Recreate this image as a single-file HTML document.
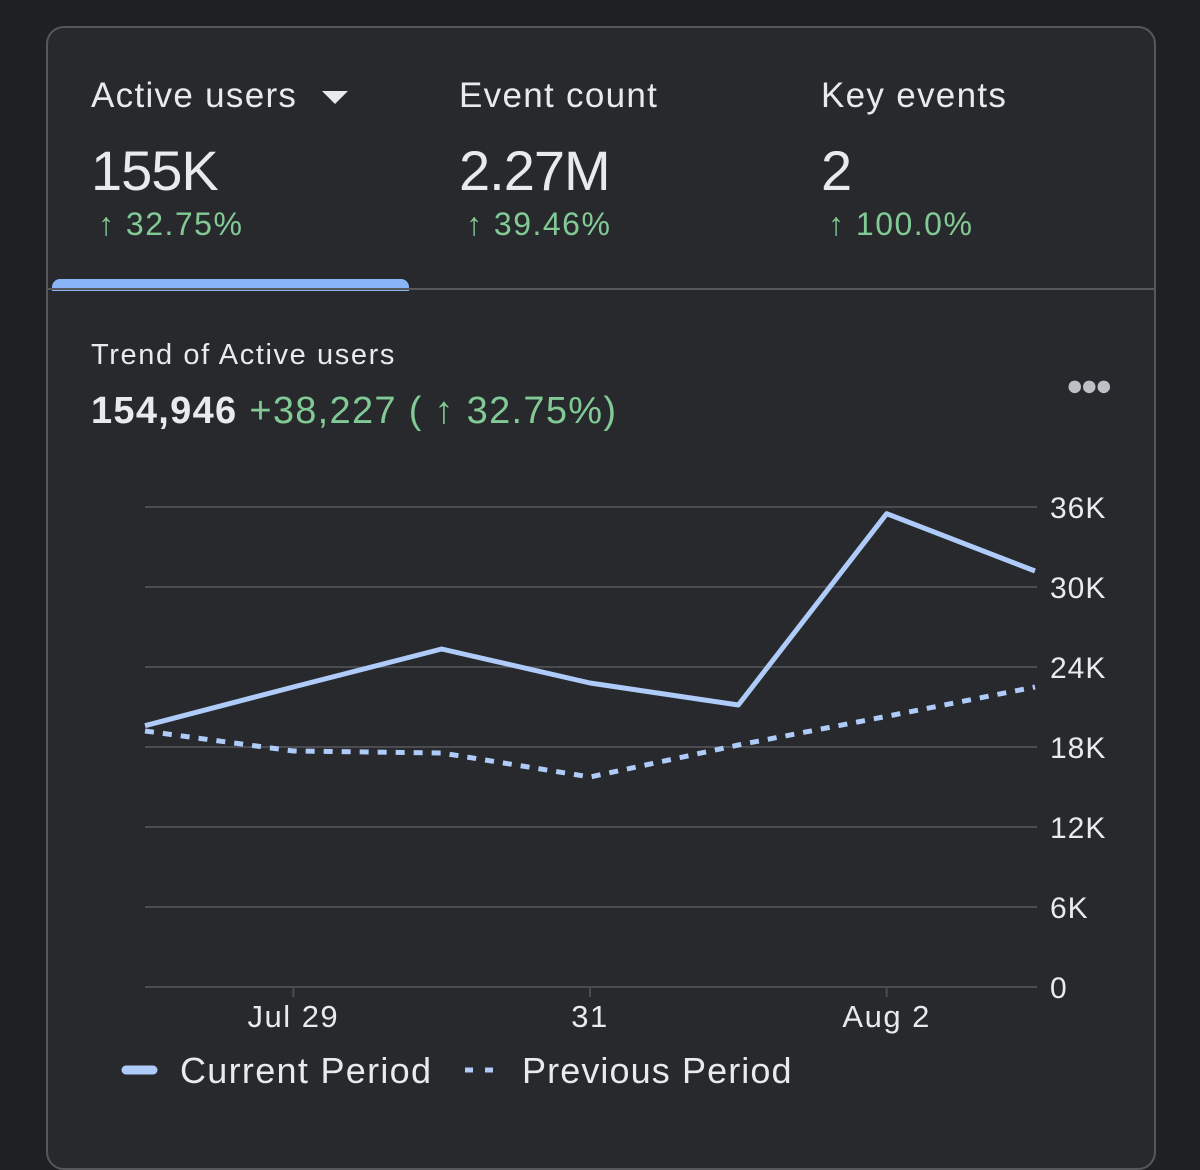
<!DOCTYPE html>
<html><head><meta charset="utf-8">
<style>
body{margin:0;width:1200px;height:1126px;background:#1f2022;font-family:"Liberation Sans",sans-serif;overflow:hidden;position:relative}
.card{position:absolute;left:46px;top:26px;width:1106px;height:1140px;border:2px solid #55575b;border-radius:18px;background:#28292c;overflow:hidden}
.t{position:absolute;color:#e8eaed;white-space:nowrap}
.g{color:#81c995}
</style></head><body>
<div class="card">
 <div class="t" style="left:43px;top:48px;font-size:35px;letter-spacing:1.3px">Active users <span style="display:inline-block;width:0;height:0;border-left:13px solid transparent;border-right:13px solid transparent;border-top:13px solid #e8eaed;vertical-align:middle;margin-left:14px"></span></div>
 <div class="t" style="left:43px;top:110px;font-size:56px;letter-spacing:-1px">155K</div>
 <div class="t g" style="left:50px;top:178px;font-size:32px;letter-spacing:1.5px">↑ 32.75%</div>
 <div class="t" style="left:411px;top:48px;font-size:35px;letter-spacing:1.3px">Event count</div>
 <div class="t" style="left:411px;top:110px;font-size:56px;letter-spacing:-1px">2.27M</div>
 <div class="t g" style="left:418px;top:178px;font-size:32px;letter-spacing:1.5px">↑ 39.46%</div>
 <div class="t" style="left:773px;top:48px;font-size:35px;letter-spacing:1.3px">Key events</div>
 <div class="t" style="left:773px;top:110px;font-size:56px">2</div>
 <div class="t g" style="left:780px;top:178px;font-size:32px;letter-spacing:1.5px">↑ 100.0%</div>
 <div style="position:absolute;left:4px;top:251px;width:357px;height:12px;background:#8ab4f8;border-radius:8px 8px 0 0"></div>
 <div style="position:absolute;left:0;top:260px;width:100%;height:2px;background:#55575b"></div>
 <div class="t" style="left:43px;top:311px;font-size:29px;letter-spacing:1.6px">Trend of Active users</div>
 <div class="t" style="left:43px;top:362px;font-size:38px;letter-spacing:1.3px"><b style="font-weight:600">154,946</b> <span class="g">+38,227 ( ↑ 32.75%)</span></div>
 <div class="t" style="left:1018px;top:342px;font-size:29px;color:#bdc1c6;letter-spacing:-3px">●●●</div>
</div>
<svg id="chart" width="1200" height="1126" style="position:absolute;left:0;top:0"></svg>
<script>
const dates=["Jul 28","Jul 29","Jul 30","Jul 31","Aug 1","Aug 2","Aug 3"];
const currentValues=[19.6,22.5,25.35,22.8,21.15,35.5,31.2];
const previousValues=[19.2,17.7,17.55,15.75,18.15,20.3,22.5];
const yTicks=[0,6,12,18,24,30,36];
const yTickLabels=["0","6K","12K","18K","24K","30K","36K"];
const xTickIdx=[1,3,5];
const xTickLabels=["Jul 29","31","Aug 2"];
const svg=document.getElementById('chart');
const NS="http://www.w3.org/2000/svg";
const x=i=>145+i*(1035-145)/(dates.length-1);
const y=v=>987-v*(480/36);
function mk(t,a){const e=document.createElementNS(NS,t);for(const k in a)e.setAttribute(k,a[k]);svg.appendChild(e);return e;}
yTicks.forEach((v,i)=>{
 const l=mk('line',{x1:145,x2:1037,y1:y(v),y2:y(v),stroke:'#4a4c50','stroke-width':2});
 
 
 const t=mk('text',{x:1050,y:y(v)+11,fill:'#e8eaed','font-size':30,'letter-spacing':1,'font-family':'Liberation Sans, sans-serif'});
 t.textContent=yTickLabels[i];
 
 
});
xTickIdx.forEach((d,i)=>{
 const tk=mk('line',{x1:x(d),x2:x(d),y1:987,y2:997,stroke:'#4a4c50','stroke-width':2});
 
 
 const t=mk('text',{x:x(d),y:1027,fill:'#e8eaed','font-size':31,'letter-spacing':1.5,'text-anchor':'middle','font-family':'Liberation Sans, sans-serif'});
 t.textContent=xTickLabels[i];
 
 
});
const prev=mk('polyline',{points:previousValues.map((v,i)=>x(i)+','+y(v)).join(' '),fill:'none',stroke:'#aecbfa','stroke-width':5,'stroke-dasharray':'9 9'});


const cur=mk('polyline',{points:currentValues.map((v,i)=>x(i)+','+y(v)).join(' '),fill:'none',stroke:'#aecbfa','stroke-width':5,'stroke-linejoin':'round'});


const lc=mk('line',{x1:126,x2:153,y1:1070,y2:1070,stroke:'#aecbfa','stroke-width':9,'stroke-linecap':'round'});


const t1=mk('text',{x:180,y:1083,fill:'#e8eaed','font-size':36,'letter-spacing':1.3,'font-family':'Liberation Sans, sans-serif'});
t1.textContent='Current Period';


const lp=mk('line',{x1:465,x2:495,y1:1070,y2:1070,stroke:'#aecbfa','stroke-width':5,'stroke-dasharray':'8 12'});


const t2=mk('text',{x:522,y:1083,fill:'#e8eaed','font-size':36,'letter-spacing':1.1,'font-family':'Liberation Sans, sans-serif'});
t2.textContent='Previous Period';


</script>
</body></html>
